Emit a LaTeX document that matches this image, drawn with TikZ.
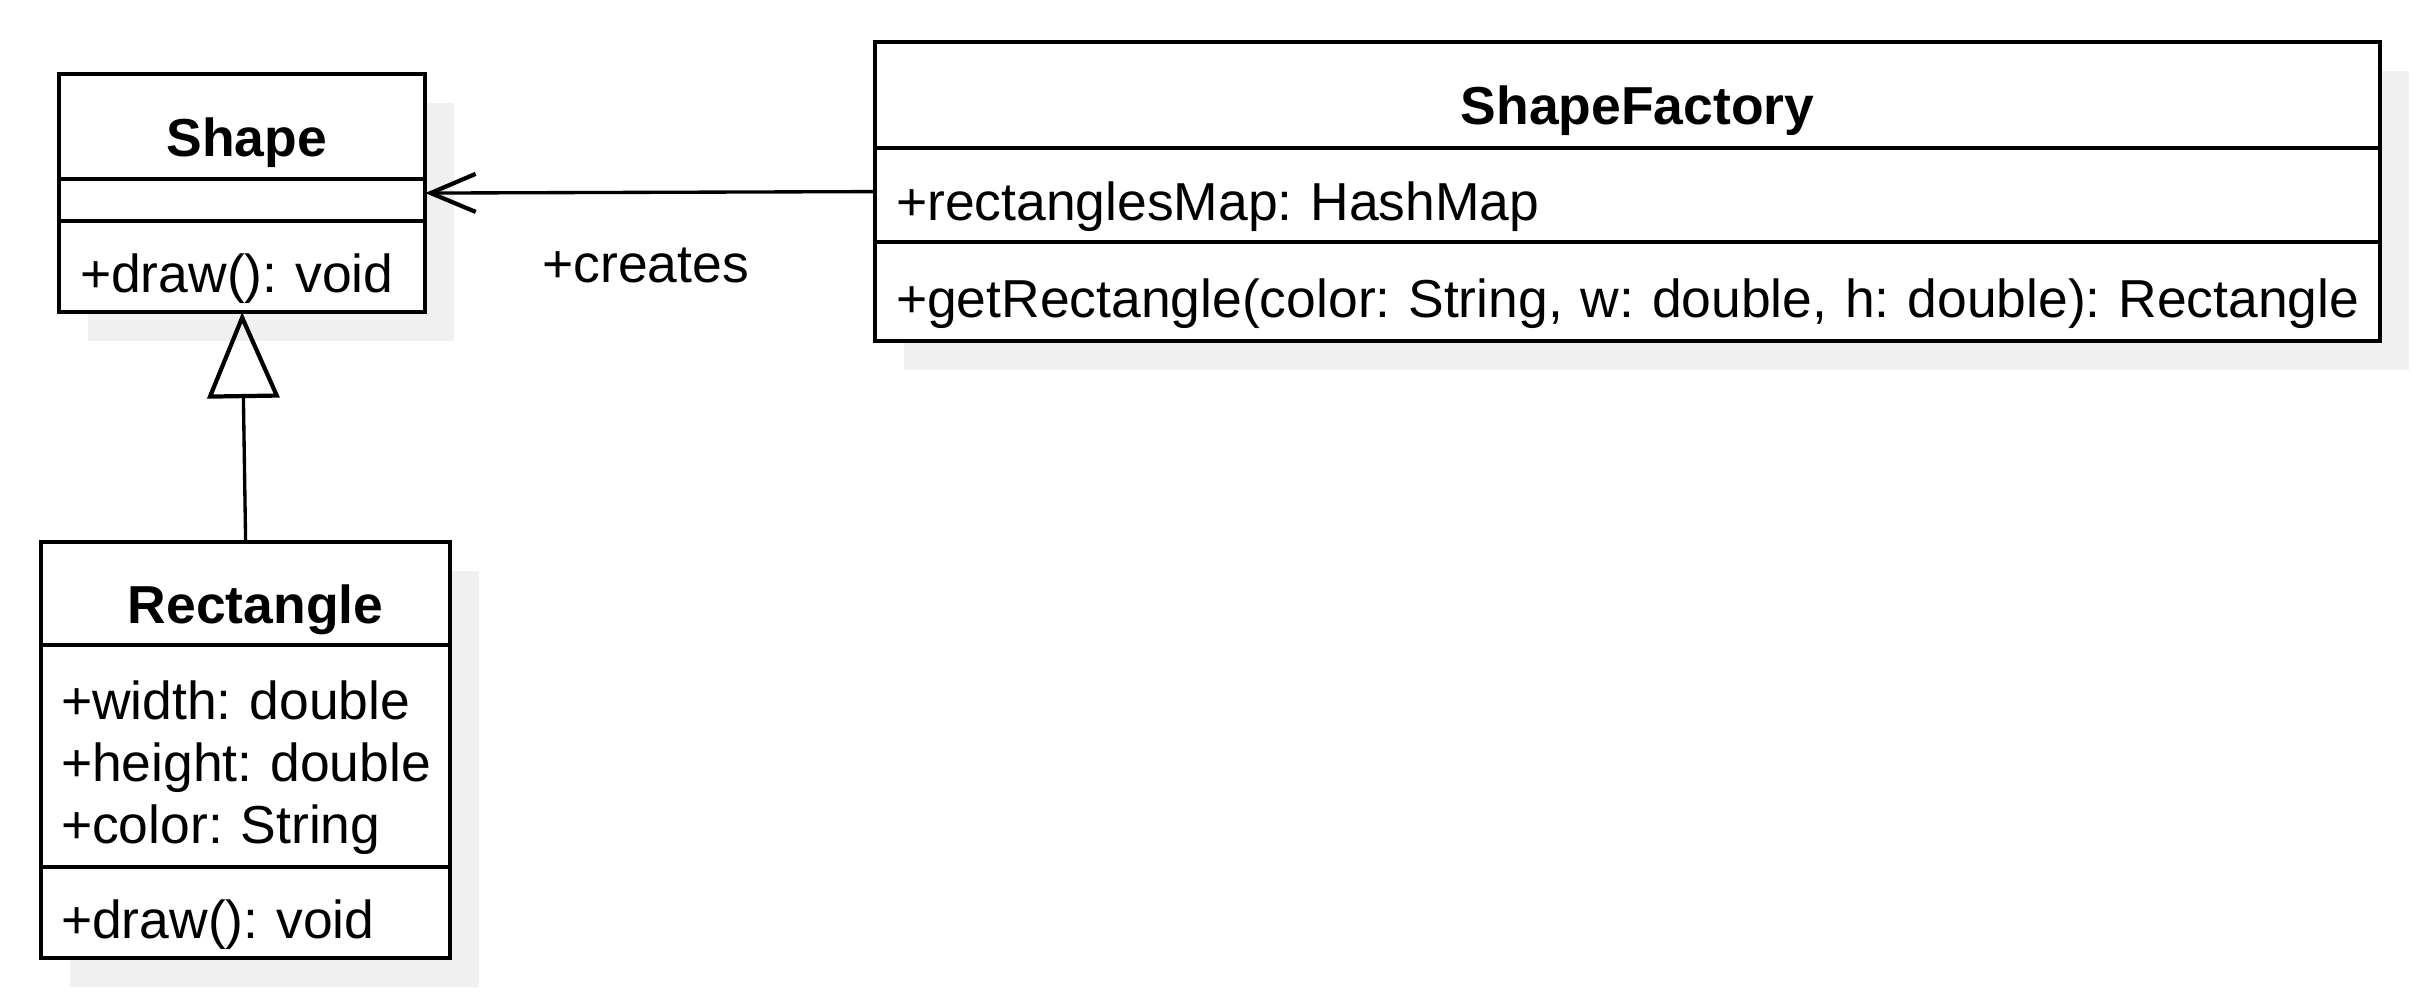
\documentclass[tikz,border=0pt]{standalone}
\usepackage{fontspec}
\setmainfont{Liberation Sans}
\usetikzlibrary{arrows.meta, positioning, fit, backgrounds}
\definecolor{umlshade}{HTML}{F0F0F0}
\newcommand{\umlfont}{\fontsize{15.2pt}{17.64pt}\selectfont}
\frenchspacing
\hyphenpenalty=10000

\begin{document}
\begin{tikzpicture}[
    x=0.01cm, y=-0.01cm,
    umlbox/.style={
      draw,
      line width=1.2pt,
      fill=white,
      outer sep=0pt,
      inner ysep=0pt,
      font=\umlfont
    },
    classname/.style={umlbox, font=\umlfont\bfseries, inner xsep=0pt, text height=0.59cm, text depth=0pt,
      execute at begin node=\hspace*{#1}},
    classname/.default=0.2cm,
    member/.style={umlbox, align=left, inner xsep=0.21cm, text height=0.51cm, text depth=0pt},
    wrap/.style={inner sep=0pt, outer sep=0pt},
    assoc/.style={-{Straight Barb[length=0.45cm, width=0.38cm, line width=1.2pt]}, line width=0.95pt},
    inherit/.style={-{Triangle[open, length=0.86cm, width=0.72cm, line width=1.2pt]}, line width=0.95pt},
    lbl/.style={font=\umlfont, inner sep=0pt, anchor=base}
  ]
  \useasboundingbox (0,0) rectangle (2421,1000);

  \node[classname=0.09cm, minimum width=3.66cm, minimum height=1.05cm, anchor=north west] (shapename) at (59,74) {Shape};
  \node[member, text width=3.24cm, minimum height=0.42cm, text height=0pt, below=0pt of shapename] (shapeattrs) {};
  \node[member, text width=3.24cm, minimum height=0.91cm, below=0pt of shapeattrs] (shapeops) {+draw():~void};
  \node[wrap, fit=(shapename)(shapeops)] (shapecls) {};

  \node[classname, minimum width=4.09cm, minimum height=1.03cm, anchor=north west] (rectname) at (41,542) {Rectangle};
  \node[member, inner xsep=0.2cm, text width=3.69cm, minimum height=2.22cm, text height=0pt, text depth=0.73cm,
    below=0pt of rectname] (rectattrs) {+width:~double\\+height:~double\\+color:~String};
  \node[member, inner xsep=0.2cm, text width=3.69cm, minimum height=0.91cm, below=0pt of rectattrs] (rectops) {+draw():~void};
  \node[wrap, fit=(rectname)(rectops)] (rectcls) {};

  \node[classname, minimum width=15.04cm, minimum height=1.06cm, anchor=north west] (factoryname) at (875,42) {ShapeFactory};
  \node[member, text width=14.62cm, minimum height=0.94cm, below=0pt of factoryname] (factoryattrs) {+rectanglesMap:~HashMap};
  \node[member, text width=14.62cm, minimum height=0.99cm, below=0pt of factoryattrs] (factoryops)
    {+getRectangle(color:~String,~w:~double,~h:~double):~Rectangle};
  \node[wrap, fit=(factoryname)(factoryops)] (factorycls) {};

  \begin{scope}[on background layer]
    \foreach \cls in {shapecls, rectcls, factorycls}
      \fill[umlshade] ([shift={(29,29)}]\cls.north west) rectangle ([shift={(29,29)}]\cls.south east);
  \end{scope}

  \draw[assoc] (factorycls.west) -- node[lbl, pos=0.51, yshift=-0.9cm] (creates) {+creates} (shapecls.east);
  \draw[inherit] (rectcls.north) -- (shapecls.south);
\end{tikzpicture}
\end{document}
